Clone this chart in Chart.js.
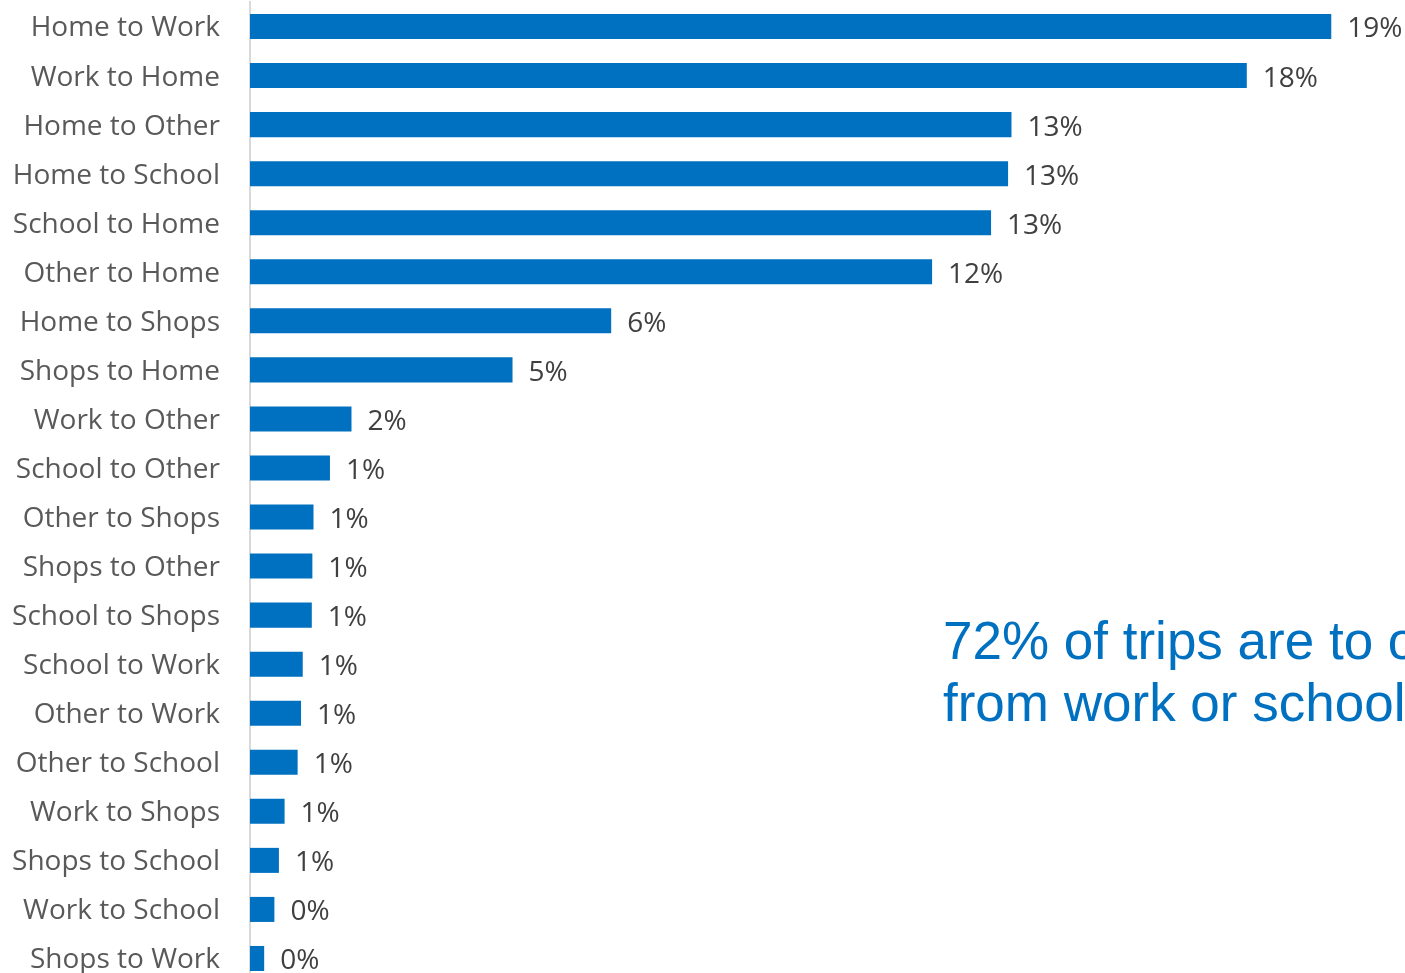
<!DOCTYPE html>
<html>
<head>
<meta charset="utf-8">
<script src="https://cdn.jsdelivr.net/npm/chart.js@4"></script>
<style>
  html, body { margin: 0; padding: 0; background: #ffffff; overflow: hidden; }
  #wrap { position: relative; width: 1405px; height: 985px; }
</style>
</head>
<body>
<div id="wrap"><canvas id="chart"></canvas></div>
<script>
// Trip purpose pairs (origin to destination), share of all trips in percent
const categories = [
  "Home to Work", "Work to Home", "Home to Other", "Home to School",
  "School to Home", "Other to Home", "Home to Shops", "Shops to Home",
  "Work to Other", "School to Other", "Other to Shops", "Shops to Other",
  "School to Shops", "School to Work", "Other to Work", "Other to School",
  "Work to Shops", "Shops to School", "Work to School", "Shops to Work"
];
const tripShare = [
  19.07, 17.58, 13.43, 13.37,
  13.07, 12.03, 6.37, 4.63,
  1.79, 1.41, 1.12, 1.10,
  1.09, 0.93, 0.90, 0.84,
  0.61, 0.51, 0.43, 0.25
];
const calloutLines = ["72% of trips are to or", "from work or school"];

const BAR_BLUE = "#0070C0";
const LABEL_FONT = "'Open Sans', 'Noto Sans', sans-serif";

// Percent value printed just past the end of each bar
const valueLabels = {
  id: "valueLabels",
  afterDatasetsDraw(chart) {
    const ctx = chart.ctx;
    const meta = chart.getDatasetMeta(0);
    ctx.save();
    ctx.font = "28px " + LABEL_FONT;
    ctx.fillStyle = "#404040";
    ctx.textAlign = "left";
    ctx.textBaseline = "middle";
    meta.data.forEach((bar, i) => {
      const v = chart.data.datasets[0].data[i];
      ctx.fillText(Math.round(v) + "%", bar.x + 16, bar.y + 3);
    });
    ctx.restore();
  }
};

// Summary statement in the lower right of the plot
const callout = {
  id: "callout",
  afterDraw(chart) {
    const ctx = chart.ctx;
    ctx.save();
    ctx.font = "53px 'Liberation Sans', Arial, sans-serif";
    ctx.fillStyle = BAR_BLUE;
    ctx.textAlign = "left";
    ctx.textBaseline = "alphabetic";
    calloutLines.forEach((line, i) => {
      ctx.fillText(line, 943, 659 + i * 62);
    });
    ctx.restore();
  }
};

new Chart(document.getElementById("chart"), {
  type: "bar",
  data: {
    labels: categories,
    datasets: [{
      data: tripShare,
      backgroundColor: BAR_BLUE,
      borderWidth: 0,
      barPercentage: 0.51,
      categoryPercentage: 1.0
    }]
  },
  options: {
    indexAxis: "y",
    responsive: true,
    maintainAspectRatio: false,
    animation: false,
    layout: { padding: { top: 2, bottom: 2, right: 21, left: 0 } },
    plugins: {
      legend: { display: false },
      tooltip: { enabled: false }
    },
    scales: {
      x: {
        display: false,
        min: 0,
        max: 20
      },
      y: {
        afterFit(scale) {
          scale.width = 250;
          scale.paddingTop = 0;
          scale.paddingBottom = 0;
        },
        grid: { display: false, drawTicks: false },
        border: { display: true, color: "#d9d9d9", width: 2 },
        ticks: {
          autoSkip: false,
          padding: 30,
          labelOffset: 2,
          color: "#595959",
          font: { family: LABEL_FONT, size: 28 }
        }
      }
    }
  },
  plugins: [valueLabels, callout]
});
</script>
</body>
</html>
